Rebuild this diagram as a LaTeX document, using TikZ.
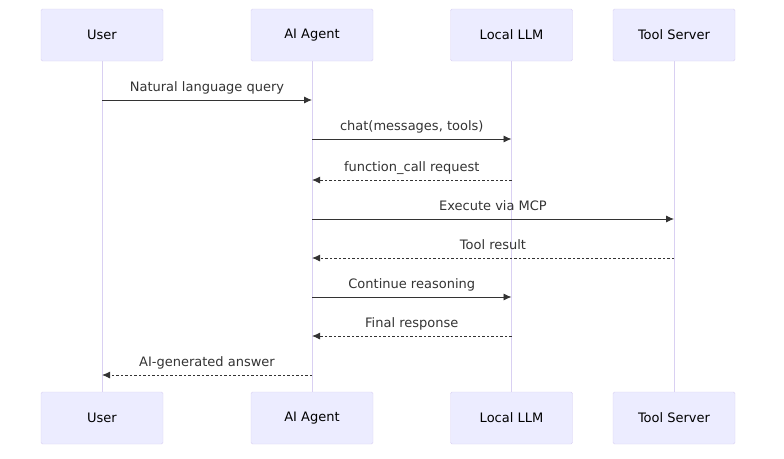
\documentclass[tikz,border=0pt]{standalone}
\usepackage{fontspec}
\setmainfont{DejaVu Sans}
\usetikzlibrary{arrows.meta}
\definecolor{actorfill}{HTML}{ECECFF}
\definecolor{actorline}{HTML}{D9D0F2}
\definecolor{msgline}{HTML}{333333}

\begin{document}
\begin{tikzpicture}[x=1pt,y=-1pt,
   actor/.style={draw=actorline,fill=actorfill,rounded corners=1.5pt,minimum width=122pt,minimum height=52pt,font=\fontsize{13}{15}\selectfont},
   life/.style={draw=actorline,line width=1pt},
   msg/.style={draw=msgline,line width=0.9pt,-{Latex[length=8pt,width=7pt]}},
   reply/.style={msg,dash pattern=on 2.5pt off 2pt},
   lbl/.style={font=\fontsize{13}{15}\selectfont,text=msgline,text height=9.5pt,text depth=3pt,above=1.5pt}]
   \useasboundingbox (0,0) rectangle (784,458);
   % lifelines and actor boxes
   \foreach \n/\x/\t in {user/102/User,agent/312/AI Agent,llm/511.5/Local LLM,tool/674/Tool Server} {
      \coordinate (\n-top) at (\x,61);
      \coordinate (\n-bot) at (\x,392);
      \path[life] (\n-top) -- (\n-bot);
      \node[actor] (\n-a) at (\x,35) {\t};
      \node[actor] (\n-b) at (\x,418) {\t};
   }
   % messages
   \foreach \f/\g/\y/\s/\t in {user/agent/100/msg/Natural language query,
         agent/llm/139/msg/{chat(messages, tools)},
         llm/agent/180/reply/function\_call request,
         agent/tool/219/msg/Execute via MCP,
         tool/agent/258/reply/Tool result,
         agent/llm/297/msg/Continue reasoning,
         llm/agent/336/reply/Final response,
         agent/user/375/reply/AI-generated answer} {
      \coordinate (m1) at (\f-top |- 0,\y);
      \coordinate (m2) at (\g-top |- 0,\y);
      \draw[\s] (m1) -- node[lbl] {\t} (m2);
   }
\end{tikzpicture}
\end{document}
